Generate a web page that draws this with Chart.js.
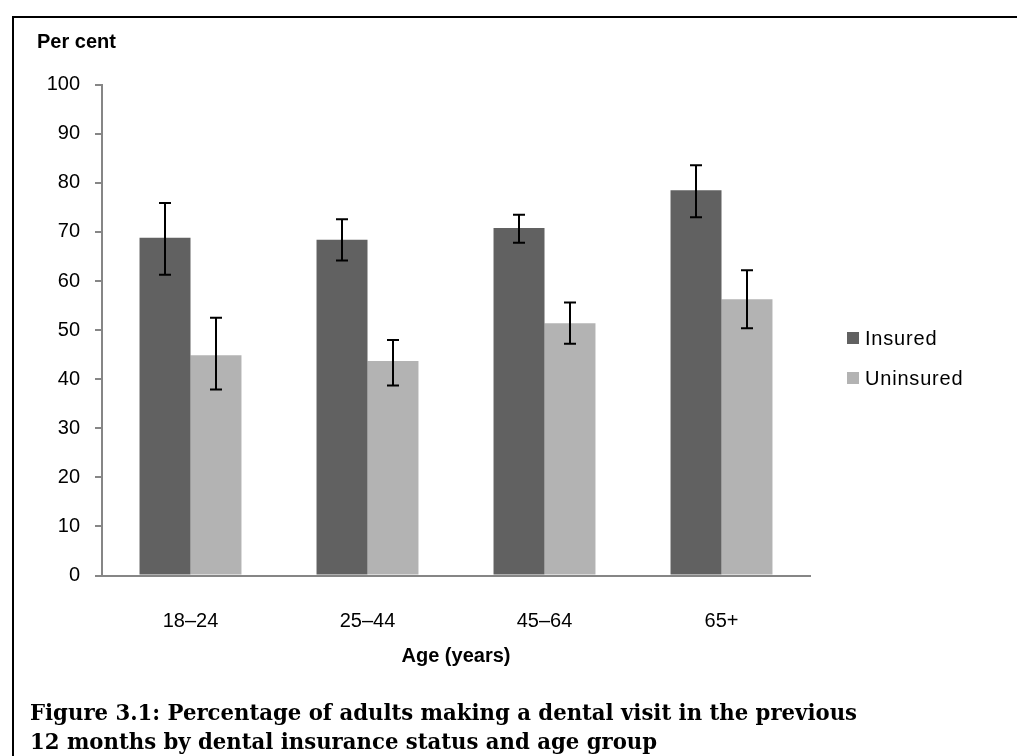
<!DOCTYPE html>
<html>
<head>
<meta charset="utf-8">
<script src="https://cdn.jsdelivr.net/npm/chart.js@4.4.1/dist/chart.umd.min.js"></script>
<style>
  html, body { margin: 0; padding: 0; background: #fff; }
  #wrap { position: relative; width: 1017px; height: 756px; overflow: hidden; }
  #chart { position: absolute; left: 0; top: 0; }
  #caption {
    position: absolute; left: 30px; top: 697px;
    font-family: 'DejaVu Serif', 'Liberation Serif', serif;
    font-weight: bold; font-size: 23px; line-height: 29px;
    color: #000; white-space: nowrap; transform-origin: 0 0;
  }
</style>
</head>
<body>
<div id="wrap">
  <canvas id="chart" width="1017" height="756"></canvas>
  <div id="caption"><span id="cap1">Figure 3.1: Percentage of adults making a dental visit in the previous</span><br><span>12 months by dental insurance status and age group</span></div>
</div>
<script>
// values
var categories = ['18–24', '25–44', '45–64', '65+'];
var seriesNames = ['Insured', 'Uninsured'];
var insured = [68.8, 68.4, 70.8, 78.5];
var uninsured = [44.9, 43.7, 51.4, 56.3];
var insuredLow = [61.3, 64.2, 67.8, 73.0];
var insuredHigh = [75.9, 72.6, 73.5, 83.6];
var uninsuredLow = [37.9, 38.7, 47.2, 50.4];
var uninsuredHigh = [52.5, 48.0, 55.6, 62.2];
var yMin = 0, yMax = 100, yStep = 10;

var axisGrey = '#868686';
var sans = "'Liberation Sans', Arial, sans-serif";

// white page + frame lines (left and top)
var framePlugin = {
  id: 'frame',
  beforeDraw: function (chart) {
    var ctx = chart.ctx;
    ctx.save();
    ctx.fillStyle = '#fff';
    ctx.fillRect(0, 0, chart.width, chart.height);
    ctx.fillStyle = '#000';
    ctx.fillRect(12, 16, chart.width - 12, 2);
    ctx.fillRect(12, 16, 2, chart.height - 16);
    ctx.restore();
  }
};

// error bars drawn over each bar
var errorBarPlugin = {
  id: 'errorBars',
  afterDatasetsDraw: function (chart) {
    var ctx = chart.ctx;
    var y = chart.scales.y;
    ctx.save();
    ctx.strokeStyle = '#000';
    ctx.lineWidth = 2;
    chart.data.datasets.forEach(function (ds, i) {
      var meta = chart.getDatasetMeta(i);
      meta.data.forEach(function (bar, j) {
        var top = y.getPixelForValue(ds.errHigh[j]);
        var bot = y.getPixelForValue(ds.errLow[j]);
        var x = Math.round(bar.x);
        ctx.beginPath();
        ctx.moveTo(x, top);
        ctx.lineTo(x, bot);
        ctx.moveTo(x - 6, top);
        ctx.lineTo(x + 6, top);
        ctx.moveTo(x - 6, bot);
        ctx.lineTo(x + 6, bot);
        ctx.stroke();
      });
    });
    ctx.restore();
  }
};

// legend on the right, squares + names
var legendPlugin = {
  id: 'sideLegend',
  afterDraw: function (chart) {
    var ctx = chart.ctx;
    ctx.save();
    ctx.font = '20px ' + sans;
    ctx.textBaseline = 'middle';
    ctx.textAlign = 'left';
    if ('letterSpacing' in ctx) ctx.letterSpacing = '0.8px';
    chart.data.datasets.forEach(function (ds, i) {
      var cy = 338 + i * 40;
      ctx.fillStyle = ds.backgroundColor;
      ctx.fillRect(847, cy - 6, 12, 12);
      ctx.fillStyle = '#000';
      ctx.fillText(ds.label, 865, cy + 1);
    });
    ctx.restore();
  }
};

new Chart(document.getElementById('chart'), {
  type: 'bar',
  data: {
    labels: categories,
    datasets: [
      { label: seriesNames[0], data: insured, errLow: insuredLow, errHigh: insuredHigh,
        backgroundColor: '#616161', borderWidth: 0 },
      { label: seriesNames[1], data: uninsured, errLow: uninsuredLow, errHigh: uninsuredHigh,
        backgroundColor: '#b3b3b3', borderWidth: 0 }
    ]
  },
  options: {
    responsive: false,
    animation: false,
    devicePixelRatio: 1,
    categoryPercentage: 0.576,
    barPercentage: 1,
    layout: { padding: { left: 37, right: 207, top: 0, bottom: 0 } },
    plugins: {
      legend: { display: false },
      tooltip: { enabled: false },
      title: {
        display: true,
        text: 'Per cent',
        align: 'start',
        color: '#000',
        font: { family: sans, size: 20, weight: 'bold' },
        padding: { top: 30, bottom: 30.7 }
      }
    },
    scales: {
      x: {
        grid: { display: false },
        border: { display: true, color: axisGrey, width: 2 },
        ticks: { color: '#000', font: { family: sans, size: 20 }, padding: 26 },
        title: {
          display: true,
          text: 'Age (years)',
          color: '#000',
          font: { family: sans, size: 20, weight: 'bold' },
          padding: { top: 10, bottom: 88 }
        },
        afterFit: function (scale) { scale.height = 180.5; }
      },
      y: {
        min: yMin,
        max: yMax,
        grid: { display: true, drawOnChartArea: false, drawTicks: true, tickLength: 7,
                color: axisGrey, lineWidth: 2 },
        border: { display: true, color: axisGrey, width: 2 },
        ticks: { stepSize: yStep, color: '#000', font: { family: sans, size: 20 }, padding: 15 },
        afterFit: function (scale) { scale.width = 65; }
      }
    }
  },
  plugins: [framePlugin, errorBarPlugin, legendPlugin]
});

// squeeze caption line to the width it has in the figure
var cap = document.getElementById('caption');
var w = document.getElementById('cap1').getBoundingClientRect().width;
cap.style.transform = 'scaleX(' + (827 / w) + ')';
</script>
</body>
</html>
